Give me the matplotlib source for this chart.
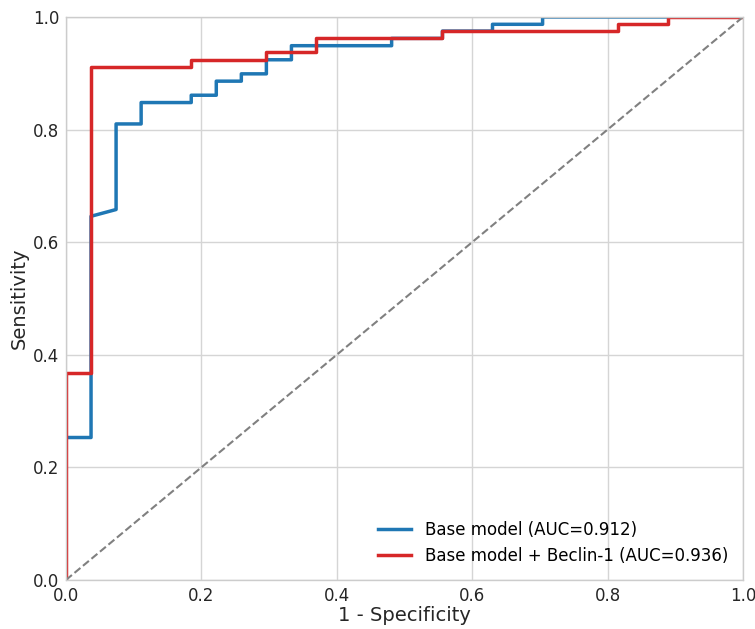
import matplotlib
matplotlib.use('Agg')
import matplotlib.pyplot as plt

# ROC points
base_fpr = [0.0, 0.0, 0.037, 0.037, 0.074, 0.074, 0.111, 0.111, 0.185, 0.185,
            0.222, 0.222, 0.259, 0.259, 0.296, 0.296, 0.333, 0.333, 0.481, 0.481,
            0.556, 0.556, 0.630, 0.630, 0.704, 0.704, 1.0]
base_tpr = [0.0, 0.253, 0.253, 0.646, 0.658, 0.810, 0.810, 0.848, 0.848, 0.861,
            0.861, 0.886, 0.886, 0.899, 0.899, 0.924, 0.924, 0.949, 0.949, 0.962,
            0.962, 0.975, 0.975, 0.987, 0.987, 1.0, 1.0]

beclin_fpr = [0.0, 0.0, 0.037, 0.037, 0.185, 0.185, 0.296, 0.296, 0.370, 0.370,
              0.556, 0.556, 0.815, 0.815, 0.889, 0.889, 1.0]
beclin_tpr = [0.0, 0.367, 0.367, 0.911, 0.911, 0.924, 0.924, 0.937, 0.937, 0.962,
              0.962, 0.975, 0.975, 0.987, 0.987, 1.0, 1.0]

labels = ['Base model (AUC=0.912)', 'Base model + Beclin-1 (AUC=0.936)']

#############################################

fig = plt.figure(figsize=(7.55, 6.29), dpi=100)
ax = fig.add_axes([0.0874, 0.078, 0.8967, 0.895])

ax.set_facecolor('white')
ax.grid(True, color='#d5d5d5', linewidth=1.0)
ax.set_axisbelow(True)
for sp in ax.spines.values():
    sp.set_color('#cccccc')
    sp.set_linewidth(1.0)

ax.plot(base_fpr, base_tpr, color='#1f77b4', lw=2.5, label=labels[0])
ax.plot(beclin_fpr, beclin_tpr, color='#d62728', lw=2.5, label=labels[1])
ax.plot([0, 1], [0, 1], color='gray', linestyle='--', lw=1.5)

ax.set_xlim(0, 1)
ax.set_ylim(0, 1)
ax.set_xticks([0, 0.2, 0.4, 0.6, 0.8, 1.0])
ax.set_yticks([0, 0.2, 0.4, 0.6, 0.8, 1.0])
ax.tick_params(axis='both', labelsize=12, colors='#262626', length=0, pad=5)
ax.set_xlabel('1 - Specificity', fontsize=14, color='#262626', labelpad=1)
ax.set_ylabel('Sensitivity', fontsize=14, color='#262626', labelpad=3)

ax.legend(loc='lower right', fontsize=12, frameon=False)

fig.savefig('out.png', dpi=100)
